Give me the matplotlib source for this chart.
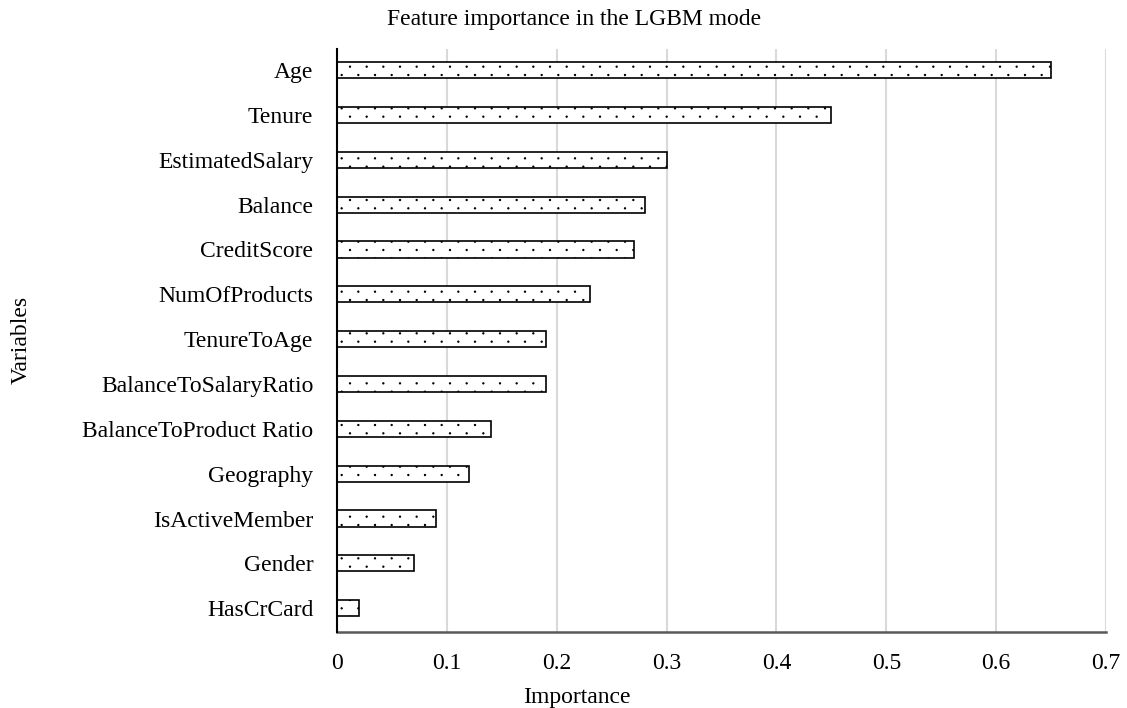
import numpy as np
import matplotlib.pyplot as plt
import matplotlib.hatch
from matplotlib.path import Path

plt.rcParams['font.family'] = ['Liberation Serif', 'DejaVu Serif']
plt.rcParams['hatch.linewidth'] = 0.8

features = ['Age', 'Tenure', 'EstimatedSalary', 'Balance', 'CreditScore',
            'NumOfProducts', 'TenureToAge', 'BalanceToSalaryRatio',
            'BalanceToProduct Ratio', 'Geography', 'IsActiveMember',
            'Gender', 'HasCrCard']
importance = [0.65, 0.45, 0.30, 0.28, 0.27, 0.23, 0.19, 0.19, 0.14,
              0.12, 0.09, 0.07, 0.02]
xticks = [0, 0.1, 0.2, 0.3, 0.4, 0.5, 0.6, 0.7]


def dotted_hatch(pattern, density=6):
    # small dots, 6 per inch along a row, rows staggered every 1/12 inch
    n = 6
    r = 0.006
    circle = Path.unit_circle()
    verts, codes = [], []
    for i, y in enumerate(np.linspace(0, 1, 2 * n + 1)):
        if i % 2 == 0:
            xs = np.arange(n + 1) / n
        else:
            xs = (np.arange(n) + 0.5) / n
        for x in xs:
            verts.append(circle.vertices * r + (x, y))
            codes.append(circle.codes)
    return Path(np.concatenate(verts), np.concatenate(codes))


matplotlib.hatch.get_path = dotted_hatch
Path.hatch = staticmethod(dotted_hatch)

fig = plt.figure(figsize=(11.27, 7.08), dpi=100)
ax = fig.add_axes([337 / 1127, 1 - 632 / 708, (1106 - 337) / 1127, (632 - 49) / 708])

# top feature goes on top
ypos = list(range(len(features)))[::-1]
ax.barh(ypos, importance, height=0.36, color='white', edgecolor='black',
        linewidth=1.2, hatch='.', zorder=3)

ax.set_xlim(0, 0.7)
ax.set_ylim(-0.53, 12.47)
ax.set_xticks(xticks)
ax.set_xticklabels([f'{t:g}' for t in xticks])
ax.set_yticks(ypos)
ax.set_yticklabels(features)
ax.tick_params(axis='both', length=0, labelsize=17)
ax.tick_params(axis='y', pad=17)
ax.tick_params(axis='x', pad=15)

ax.grid(axis='x', color='#d9d9d9', linewidth=1.5, zorder=0)
for s in ['top', 'right']:
    ax.spines[s].set_visible(False)
ax.spines['left'].set_color('black')
ax.spines['left'].set_linewidth(1.5)
ax.spines['left'].set_zorder(4)
ax.spines['bottom'].set_color('#595959')
ax.spines['bottom'].set_linewidth(1.8)

fig.text(574 / 1127, 1 - 20 / 708, 'Feature importance in the LGBM mode',
         ha='center', va='center', fontsize=17)
fig.text(577 / 1127, 1 - 698 / 708, 'Importance', ha='center', va='center',
         fontsize=17)
fig.text(21 / 1127, 1 - 340 / 708, 'Variables', ha='center', va='center',
         rotation=90, fontsize=17)

fig.savefig('out.png', dpi=100)
